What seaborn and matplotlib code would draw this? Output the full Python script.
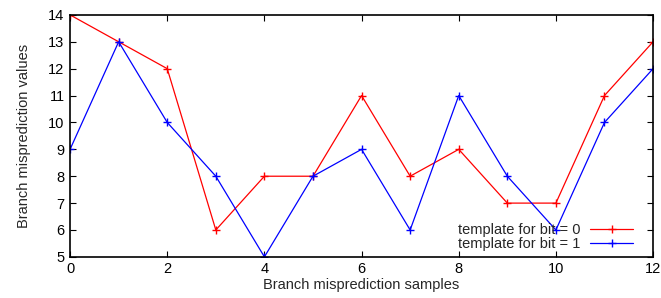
import numpy as np
import pandas as pd
import seaborn as sns
import matplotlib
matplotlib.use("Agg")
import matplotlib.pyplot as plt

samples = list(range(13))
bit0_values = [14, 13, 12, 6, 8, 8, 11, 8, 9, 7, 7, 11, 13]
bit1_values = [9, 13, 10, 8, 5, 8, 9, 6, 11, 8, 6, 10, 12]
labels = ["template for bit = 0", "template for bit = 1"]
x_ticks = [0, 2, 4, 6, 8, 10, 12]
y_ticks = list(range(5, 15))

df = pd.DataFrame({
    "sample": samples * 2,
    "value": bit0_values + bit1_values,
    "template": [labels[0]] * len(samples) + [labels[1]] * len(samples),
})

sns.set_theme(style="ticks")
plt.rcParams["font.family"] = ["Liberation Sans", "DejaVu Sans"]

fig, ax = plt.subplots(figsize=(6.61, 2.98), dpi=100)
sns.lineplot(data=df, x="sample", y="value", hue="template",
             palette={labels[0]: "#ff0000", labels[1]: "#0000ff"},
             marker="+", markersize=5.5, markeredgewidth=1.0,
             linewidth=0.9, ax=ax, legend=False)

# seaborn paints marker edges white; make them match the line colour
for ln in ax.get_lines():
    ln.set_markeredgecolor(ln.get_color())
    ln.set_markerfacecolor(ln.get_color())

ax.set_xlim(0, 12)
ax.set_ylim(5, 14)
ax.set_xticks(x_ticks)
ax.set_yticks(y_ticks)
ax.tick_params(direction="in", top=True, right=True, labelsize=10.5,
               length=4, width=0.8, colors="black", pad=4)
for s in ax.spines.values():
    s.set_color("black")
    s.set_linewidth(1.2)
ax.set_xlabel("Branch misprediction samples", fontsize=10.5, labelpad=1)
ax.set_ylabel("Branch misprediction values", fontsize=10.5, labelpad=12)

ax.legend(ax.get_lines()[:2], labels, loc="lower right", frameon=False,
          markerfirst=False, fontsize=10.5, handlelength=2.9,
          borderaxespad=0.0, labelspacing=0.0, handletextpad=0.7,
          numpoints=1, bbox_to_anchor=(0.975, 0.0))

fig.subplots_adjust(left=0.106, right=0.988, top=0.95, bottom=0.138)
fig.savefig("out.png", dpi=100)
